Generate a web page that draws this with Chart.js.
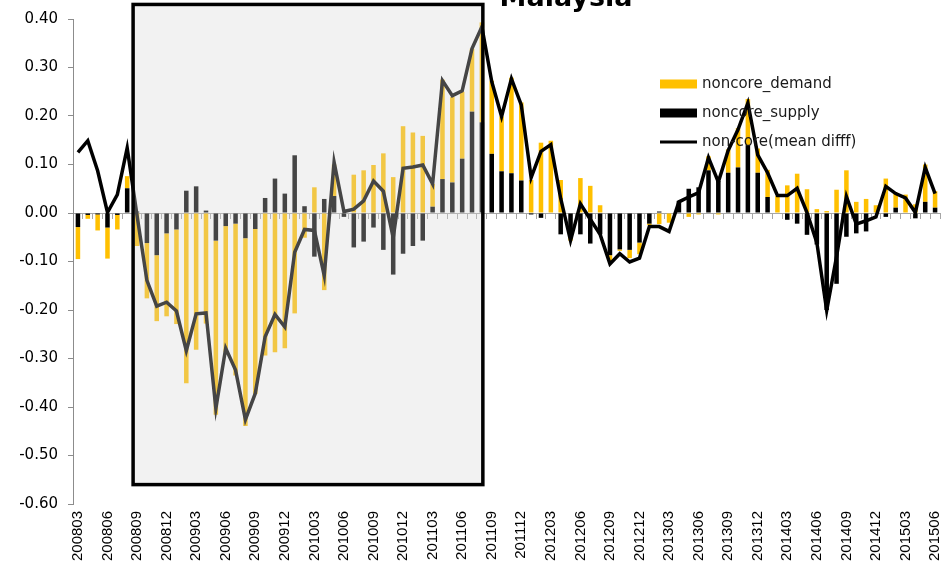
<!DOCTYPE html>
<html>
<head>
<meta charset="utf-8">
<title>Malaysia</title>
<script src="https://cdn.jsdelivr.net/npm/chart.js@4.4.0/dist/chart.umd.min.js"></script>
<style>
  html, body { margin: 0; padding: 0; background: #fff; }
  #chart { display: block; }
</style>
</head>
<body>
<canvas id="chart" width="945" height="566"></canvas>
<script>
// months on the x axis
var months = [
    '200803','200804','200805','200806','200807','200808','200809','200810','200811','200812',
    '200901','200902','200903','200904','200905','200906','200907','200908','200909','200910','200911','200912',
    '201001','201002','201003','201004','201005','201006','201007','201008','201009','201010','201011','201012',
    '201101','201102','201103','201104','201105','201106','201107','201108','201109','201110','201111','201112',
    '201201','201202','201203','201204','201205','201206','201207','201208','201209','201210','201211','201212',
    '201301','201302','201303','201304','201305','201306','201307','201308','201309','201310','201311','201312',
    '201401','201402','201403','201404','201405','201406','201407','201408','201409','201410','201411','201412',
    '201501','201502','201503','201504','201505','201506'
]

var noncoreSupply = [
    -0.029,-0.004,-0.003,-0.030,-0.004, 0.051, 0.003,-0.062,-0.087,-0.042,
    -0.034, 0.046, 0.055, 0.005,-0.057,-0.027,-0.022,-0.052,-0.033, 0.031, 0.071, 0.040,
     0.119, 0.014,-0.090, 0.029, 0.035,-0.008,-0.071,-0.059,-0.030,-0.076,-0.127,-0.084,
    -0.068,-0.057, 0.013, 0.070, 0.063, 0.112, 0.209, 0.187, 0.122, 0.086, 0.082, 0.067,
    -0.003,-0.010, 0.000,-0.044,-0.044,-0.044,-0.063,-0.044,-0.087,-0.075,-0.076,-0.061,
    -0.022, 0.003, 0.000, 0.025, 0.050, 0.053, 0.088, 0.066, 0.083, 0.094, 0.140, 0.083,
     0.033, 0.000,-0.014,-0.022,-0.045,-0.065,-0.200,-0.146,-0.049,-0.042,-0.038, 0.000,
    -0.008, 0.011, 0.000,-0.011, 0.023, 0.011
]

var noncoreDemand = [
    -0.066,-0.008,-0.033,-0.064,-0.030, 0.025,-0.068,-0.114,-0.136,-0.171,
    -0.195,-0.351,-0.282,-0.228,-0.359,-0.260,-0.313,-0.387,-0.340,-0.294,-0.287,-0.279,
    -0.207,-0.051, 0.053,-0.159, 0.065, 0.000, 0.079, 0.088, 0.099, 0.123, 0.074, 0.179,
     0.166, 0.159, 0.047, 0.205, 0.176, 0.138, 0.130, 0.206, 0.151, 0.113, 0.197, 0.161,
     0.068, 0.145, 0.149, 0.068,-0.013, 0.072, 0.056, 0.016,-0.012,-0.003,-0.017,-0.024,
    -0.003,-0.023,-0.020, 0.000,-0.008,-0.003, 0.029,-0.003, 0.048, 0.081, 0.095, 0.050,
     0.056, 0.035, 0.057, 0.081, 0.049, 0.008, 0.004, 0.048, 0.088, 0.023, 0.029, 0.016,
     0.071, 0.031, 0.038, 0.018, 0.077, 0.034
]

var meanDiff = [
     0.125, 0.149, 0.087, 0.001, 0.038, 0.134,-0.005,-0.139,-0.192,-0.184,
    -0.202,-0.284,-0.208,-0.206,-0.403,-0.279,-0.324,-0.426,-0.372,-0.255,-0.209,-0.235,
    -0.081,-0.034,-0.036,-0.129, 0.105, 0.003, 0.008, 0.025, 0.066, 0.045,-0.051, 0.092,
     0.095, 0.099, 0.060, 0.273, 0.242, 0.252, 0.339, 0.384, 0.271, 0.199, 0.277, 0.223,
     0.073, 0.127, 0.141, 0.030,-0.057, 0.019,-0.013,-0.044,-0.105,-0.084,-0.101,-0.093,
    -0.028,-0.028,-0.038, 0.023, 0.033, 0.042, 0.114, 0.064, 0.129, 0.172, 0.227, 0.120,
     0.083, 0.036, 0.036, 0.051, 0.001,-0.061,-0.201,-0.090, 0.034,-0.023,-0.016,-0.008,
     0.055, 0.040, 0.031, 0.001, 0.094, 0.040
]

var axisGray = '#8c8c8c'

// grey highlighted period (200809 - 201108)
var shadeBox = {
    id: 'shadeBox',
    afterDatasetsDraw: function (chart, args, opts) {
        var ctx = chart.ctx
        var x = chart.scales.x, y = chart.scales.y
        var l = x.getPixelForValue(opts.from), r = x.getPixelForValue(opts.to)
        var t = y.getPixelForValue(opts.top), b = y.getPixelForValue(opts.bottom)
        ctx.save()
        ctx.fillStyle = 'rgba(216,216,216,0.32)'
        ctx.fillRect(l, t, r - l, b - t)
        ctx.lineWidth = 3.5
        ctx.strokeStyle = '#000'
        ctx.strokeRect(l, t, r - l, b - t)
        ctx.restore()
    }
}

// title (cut at the top) + legend inside the plot
var extras = {
    id: 'extras',
    afterDraw: function (chart, args, opts) {
        var ctx = chart.ctx
        ctx.save()
        ctx.fillStyle = '#000'
        ctx.font = 'bold 27px "DejaVu Sans"'
        ctx.textAlign = 'center'
        ctx.textBaseline = 'alphabetic'
        ctx.fillText('Malaysia', opts.titleX, opts.titleY)

        ctx.font = '15px "DejaVu Sans"'
        ctx.textAlign = 'left'
        ctx.textBaseline = 'middle'
        var order = [1, 2, 0]
        order.forEach(function (di, k) {
            var ds = chart.data.datasets[di]
            var yy = opts.legendY + k * opts.legendGap
            if (ds.type === 'line') {
                ctx.strokeStyle = ds.borderColor
                ctx.lineWidth = 3
                ctx.beginPath()
                ctx.moveTo(opts.legendX, yy)
                ctx.lineTo(opts.legendX + 37, yy)
                ctx.stroke()
            } else {
                ctx.fillStyle = ds.backgroundColor
                ctx.fillRect(opts.legendX, yy - 4.5, 37, 9)
            }
            ctx.fillStyle = '#1a1a1a'
            ctx.fillText(ds.label, opts.legendX + 42, yy)
        })
        ctx.restore()
    }
}

new Chart(document.getElementById('chart'), {
    type: 'bar',
    data: {
        labels: months,
        datasets: [{
            type: 'line',
            label: 'non-core(mean difff)',
            data: meanDiff,
            borderColor: '#000',
            borderWidth: 3.5,
            pointRadius: 0,
            tension: 0,
            stack: 'line',
            order: 0
        }, {
            label: 'noncore_demand',
            data: noncoreDemand,
            backgroundColor: '#FFC000',
            barPercentage: 0.46,
            categoryPercentage: 1,
            stack: 'bars',
            order: 2
        }, {
            label: 'noncore_supply',
            data: noncoreSupply,
            backgroundColor: '#000000',
            barPercentage: 0.46,
            categoryPercentage: 1,
            stack: 'bars',
            order: 1
        }]
    },
    options: {
        responsive: false,
        devicePixelRatio: 1,
        animation: false,
        layout: { padding: { top: 17, right: 5, left: 0, bottom: 0 } },
        plugins: {
            legend: { display: false },
            tooltip: { enabled: false },
            shadeBox: { from: 5.6, to: 41.1, top: 0.43, bottom: -0.56 },
            extras: { titleX: 566, titleY: 6, legendX: 660, legendY: 84, legendGap: 29 }
        },
        scales: {
            x: {
                stacked: true,
                offset: true,
                position: { y: 0 },
                ticks: { display: false },
                grid: { drawOnChartArea: false, offset: true, tickLength: 5, color: '#a6a6a6' },
                border: { color: '#a6a6a6' }
            },
            x2: {
                type: 'category',
                axis: 'x',
                labels: months,
                offset: true,
                position: 'bottom',
                grid: { display: false, drawTicks: false },
                border: { display: false },
                ticks: {
                    autoSkip: false,
                    maxRotation: 90,
                    minRotation: 90,
                    padding: 7,
                    color: '#000',
                    font: { family: '"Liberation Sans"', size: 15 },
                    callback: function (val, idx) { return idx % 3 === 0 ? months[idx] : '' }
                },
                afterFit: function (s) { s.height = 62; s.paddingLeft = 0; s.paddingRight = 0 }
            },
            y: {
                stacked: true,
                min: -0.6,
                max: 0.4,
                ticks: {
                    stepSize: 0.1,
                    padding: 10,
                    color: '#000',
                    font: { family: '"DejaVu Sans"', size: 15 },
                    callback: function (v) { return (Math.abs(v) < 1e-9 ? 0 : v).toFixed(2) }
                },
                grid: { drawOnChartArea: false, tickLength: 5, color: axisGray },
                border: { color: axisGray },
                afterFit: function (s) { s.width = 73 }
            }
        }
    },
    plugins: [shadeBox, extras]
})
</script>
</body>
</html>
